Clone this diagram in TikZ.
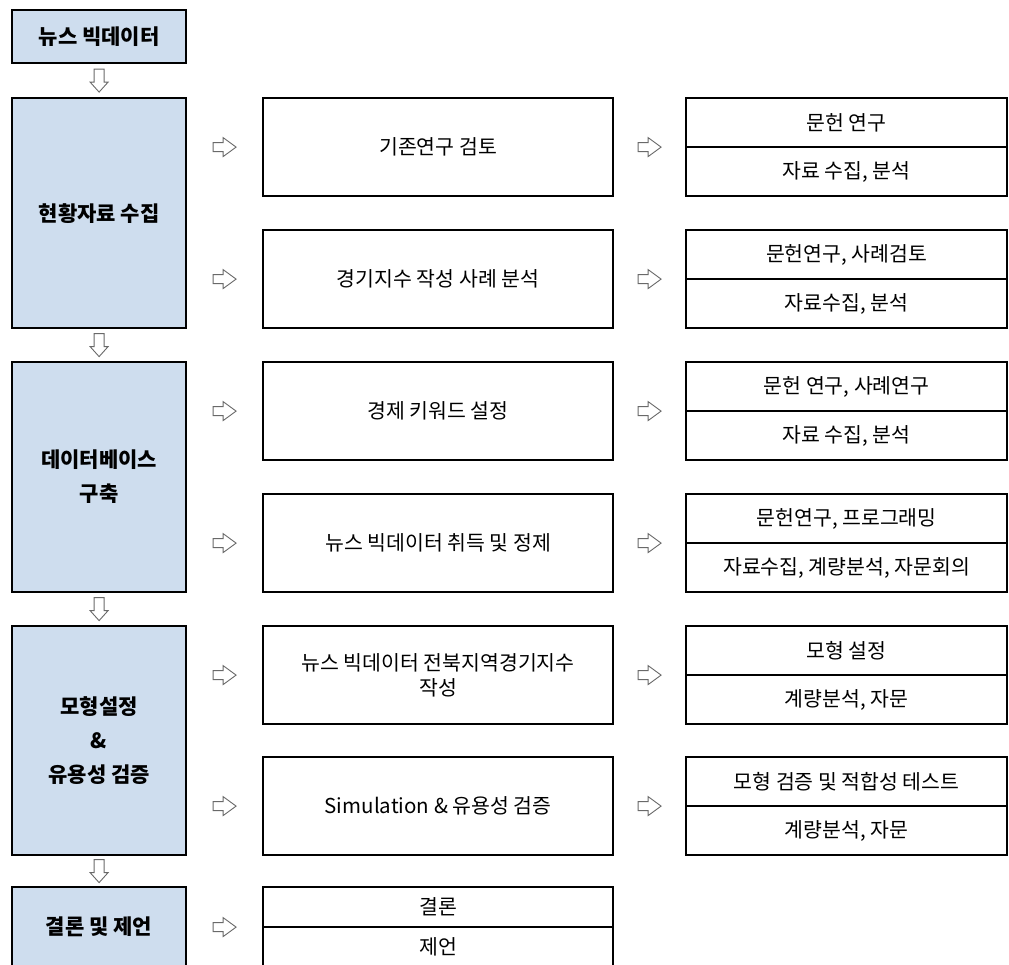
\documentclass[tikz,border=0pt]{standalone}
\usepackage{fontspec}
\setmainfont{Noto Sans CJK KR}
\usetikzlibrary{calc}
\definecolor{leftblue}{RGB}{206,221,238}
\definecolor{arrgray}{RGB}{105,105,105}
\tikzset{
  box/.style={draw=black, line width=2.2pt, inner sep=0pt, anchor=north west, align=center},
  leftbox/.style={box, fill=leftblue, minimum width=174pt, font=\fontsize{21}{34}\selectfont\bfseries},
  midbox/.style={box, fill=white, minimum width=350pt, minimum height=98pt, font=\fontsize{20.5}{25}\selectfont},
  subbox/.style={box, fill=white, minimum width=321pt, minimum height=49pt, font=\fontsize{20.5}{25}\selectfont},
  endbox/.style={box, fill=white, minimum width=350pt, minimum height=40pt, font=\fontsize{20.5}{25}\selectfont},
  arrowline/.style={draw=arrgray, fill=white, line width=0.9pt, line join=miter},
  rarr/.pic={\path[arrowline] (-11.5,-4.5) -- (-1.5,-4.5) -- (-1.5,-9.5) -- (11.5,0) -- (-1.5,9.5) -- (-1.5,4.5) -- (-11.5,4.5) -- cycle;},
  darr/.pic={\path[arrowline] (-5,-11.5) -- (5,-11.5) -- (5,1.5) -- (9,1.5) -- (0,11.5) -- (-9,1.5) -- (-5,1.5) -- cycle;}
}
\begin{document}
\begin{tikzpicture}[x=1pt,y=-1pt]
\useasboundingbox (0,0) rectangle (1009,964);
% left column
\node[leftbox, minimum height=53pt]  (A) at (11,9)   {뉴스 빅데이터};
\node[leftbox, minimum height=230pt] (B) at (11,97)  {현황자료 수집};
\node[leftbox, minimum height=230pt] (C) at (11,361) {데이터베이스\\구축};
\node[leftbox, minimum height=229pt] (D) at (11,625) {모형설정\\\&\\유용성 검증};
\node[leftbox, minimum height=80pt]  (E) at (11,886) {결론 및 제언};
% middle column
\node[midbox] (m1) at (262,97)  {기존연구 검토};
\node[midbox] (m2) at (262,229) {경기지수 작성 사례 분석};
\node[midbox] (m3) at (262,361) {경제 키워드 설정};
\node[midbox] (m4) at (262,493) {뉴스 빅데이터 취득 및 정제};
\node[midbox] (m5) at (262,625) {뉴스 빅데이터 전북지역경기지수\\작성};
\node[midbox] (m6) at (262,756) {Simulation \& 유용성 검증};
\node[endbox] (m7a) at (262,886) {결론};
\node[endbox] (m7b) at (262,926) {제언};
% right column
\node[subbox] (r1a) at (685,97)  {문헌 연구};
\node[subbox] (r1b) at (685,146) {자료 수집, 분석};
\node[subbox] (r2a) at (685,229) {문헌연구, 사례검토};
\node[subbox] (r2b) at (685,278) {자료수집, 분석};
\node[subbox] (r3a) at (685,361) {문헌 연구, 사례연구};
\node[subbox] (r3b) at (685,410) {자료 수집, 분석};
\node[subbox] (r4a) at (685,493) {문헌연구, 프로그래밍};
\node[subbox] (r4b) at (685,542) {자료수집, 계량분석, 자문회의};
\node[subbox] (r5a) at (685,625) {모형 설정};
\node[subbox] (r5b) at (685,674) {계량분석, 자문};
\node[subbox] (r6a) at (685,756) {모형 검증 및 적합성 테스트};
\node[subbox] (r6b) at (685,805) {계량분석, 자문};
% down arrows
\pic at ($(A.south)!0.5!(B.north)$) {darr};
\pic at ($(B.south)!0.5!(C.north)$) {darr};
\pic at ($(C.south)!0.5!(D.north)$) {darr};
\pic at ($(D.south)!0.5!(E.north)$) {darr};
% right arrows: left -> middle
\foreach \m/\l in {m1/B, m2/B, m3/C, m4/C, m5/D, m6/D}{
  \pic at ($(\l.east |- \m.west)!0.5!(\m.west)$) {rarr};
}
\pic at ($(E.east)!0.5!(E.east -| m7a.west)$) {rarr};
% right arrows: middle -> right
\foreach \m/\r in {m1/r1a, m2/r2a, m3/r3a, m4/r4a, m5/r5a, m6/r6a}{
  \pic at ($(\m.east)!0.5!(\m.east -| \r.west)$) {rarr};
}
\end{tikzpicture}
\end{document}
